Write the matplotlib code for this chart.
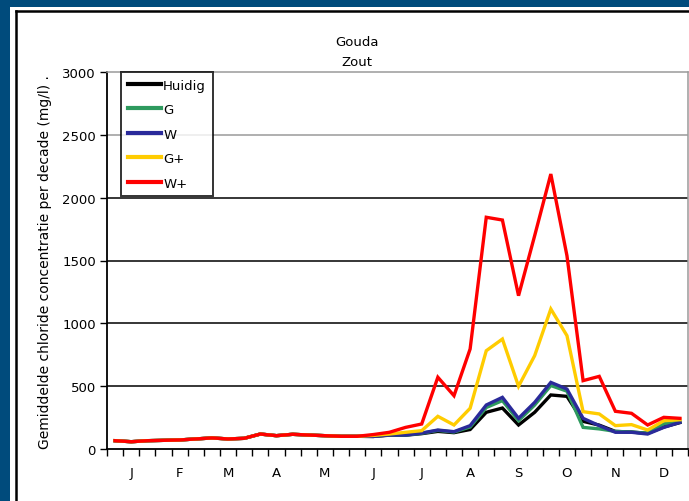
import matplotlib
matplotlib.use("Agg")
import matplotlib.pyplot as plt
from matplotlib.lines import Line2D
from matplotlib.patches import Rectangle
import numpy as np

# ---- data (decade values, mg/l) ----
months = ["J", "F", "M", "A", "M", "J", "J", "A", "S", "O", "N", "D"]
base = [66, 58, 66, 69, 72, 80, 88, 80, 85, 119, 106, 117, 111, 106, 101, 101]

huidig = base + [100, 110, 110, 122, 140, 130, 155, 292, 326, 191, 292, 430, 419, 220, 190, 140, 135, 125, 175, 210]
g      = base + [100, 112, 111, 125, 148, 135, 175, 330, 385, 225, 350, 505, 460, 172, 160, 140, 135, 125, 200, 215]
w      = base + [100, 112, 111, 127, 151, 138, 186, 350, 411, 244, 371, 530, 477, 244, 186, 133, 133, 119, 172, 212]
g_plus = base + [108, 119, 133, 146, 260, 191, 324, 782, 875, 499, 743, 1114, 902, 297, 279, 186, 194, 151, 225, 233]
w_plus = base + [115, 133, 172, 199, 571, 424, 796, 1844, 1822, 1220, 1698, 2188, 1538, 544, 578, 300, 284, 191, 252, 244]

series_names = ["Huidig", "G", "W", "G+", "W+"]
series_values = [huidig, g, w, g_plus, w_plus]
series_colors = ["#000000", "#2e9a5e", "#2a2a9a", "#ffcc00", "#ff0000"]

# ---- figure ----
W, H = 689, 502
plt.rcParams["font.family"] = ["DejaVu Sans"]
fig = plt.figure(figsize=(W / 100, H / 100), dpi=100)
fig.patch.set_facecolor("#004b7c")

# white panel with black frame
fig.add_artist(Rectangle((10 / W, 0), 1, 1 - 8 / H, transform=fig.transFigure,
                         facecolor="white", edgecolor="none", zorder=-10))
fig.add_artist(Line2D([16 / W, 16 / W], [0, 1 - 12 / H], transform=fig.transFigure,
                      color="black", lw=1.8, zorder=-5))
fig.add_artist(Line2D([16 / W, 1], [1 - 12 / H, 1 - 12 / H], transform=fig.transFigure,
                      color="black", lw=1.8, zorder=-5))

ax = fig.add_axes([107 / W, 1 - 450 / H, (688 - 107) / W, (450 - 73) / H])
ax.set_facecolor("none")
ax.set_zorder(2)

n = len(huidig)
x = np.arange(n) + 0.5

# grid lines
for yv in [500, 1000, 1500, 2000]:
    ax.axhline(yv, color="black", lw=1.1, zorder=1)
ax.axhline(2500, color="#9a9a9a", lw=1.1, zorder=1)

for name, vals, col in zip(series_names, series_values, series_colors):
    ax.plot(x, vals, color=col, lw=2.4, label=name, zorder=3, solid_joinstyle="miter")

ax.set_xlim(0, n)
ax.set_ylim(0, 3000)
ax.set_yticks(range(0, 3001, 500))
ax.tick_params(axis="y", length=5, width=1, pad=3, labelsize=9.5)

ax.set_xticks(range(0, n + 1))
ax.set_xticklabels([])
ax.set_xticks(np.arange(len(months)) * 3 + 1.5, minor=True)
ax.set_xticklabels(months, minor=True, fontsize=9.5)
ax.tick_params(axis="x", which="major", length=5, width=1, direction="out")
ax.tick_params(axis="x", which="minor", length=0, pad=12)

for s in ["left", "bottom"]:
    ax.spines[s].set_color("black")
    ax.spines[s].set_linewidth(1.3)
for s in ["top", "right"]:
    ax.spines[s].set_color("#9a9a9a")
    ax.spines[s].set_linewidth(1.1)

leg = ax.legend(loc="upper left", bbox_to_anchor=(0.024, 1.0), fontsize=9.5,
                frameon=True, fancybox=False, borderpad=0.5, borderaxespad=0,
                handlelength=2.5, handletextpad=0.2, labelspacing=0.87)
leg.get_frame().set_edgecolor("black")
leg.get_frame().set_linewidth(1.4)
leg.set_zorder(5)
for lh in leg.get_lines():
    lh.set_linewidth(3)

fig.text(357 / W, 1 - 43 / H, "Gouda", ha="center", va="center", fontsize=9.5)
fig.text(357 / W, 1 - 63 / H, "Zout", ha="center", va="center", fontsize=9.5)
fig.text(45 / W, 1 - 262 / H, "Gemiddelde chloride concentratie per decade (mg/l) .",
         rotation=90, ha="center", va="center", fontsize=10)

fig.savefig("out.png", dpi=100, facecolor=fig.get_facecolor())
